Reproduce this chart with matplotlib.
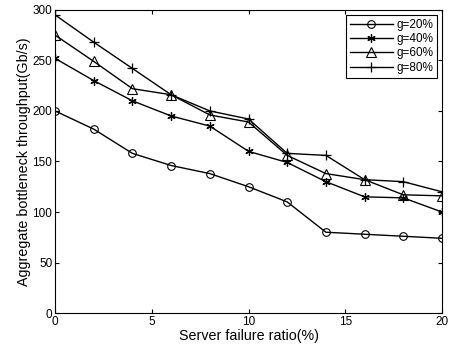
import matplotlib
matplotlib.use("Agg")
import matplotlib.pyplot as plt

x = [0, 2, 4, 6, 8, 10, 12, 14, 16, 18, 20]
g20 = [200, 182, 158, 146, 138, 125, 110, 80, 78, 76, 74]
g40 = [252, 230, 210, 195, 185, 160, 149, 130, 115, 114, 100]
g60 = [275, 249, 222, 216, 196, 189, 156, 138, 132, 117, 116]
g80 = [295, 268, 242, 216, 200, 192, 158, 156, 132, 130, 120]
labels = ["g=20%", "g=40%", "g=60%", "g=80%"]

plt.rcParams['font.family'] = ['Liberation Sans', 'DejaVu Sans']
fig = plt.figure(figsize=(4.51, 3.51), dpi=100)
ax = fig.add_axes([0.122, 0.108, 0.858, 0.864])
ax.plot(x, g20, '-o', color='black', lw=1, ms=5.5, mfc='none', mew=0.8, label=labels[0])
ax.plot(x, g40, '-', marker=(6, 2, 0), color='black', lw=1, ms=6, mfc='none', mew=0.9, label=labels[1])
ax.plot(x, g60, '-^', color='black', lw=1, ms=6.5, mfc='none', mew=0.8, label=labels[2])
ax.plot(x, g80, '-+', color='black', lw=1, ms=7, mfc='none', mew=0.9, label=labels[3])
ax.set_xlim(0, 20)
ax.set_ylim(0, 300)
ax.set_xticks([0, 5, 10, 15, 20])
ax.set_yticks([0, 50, 100, 150, 200, 250, 300])
ax.tick_params(direction='in', top=True, right=True, labelsize=8.5, length=3, pad=2)
ax.set_xlabel("Server failure ratio(%)", fontsize=10.3, labelpad=1)
ax.set_ylabel("Aggregate bottleneck throughput(Gb/s)", fontsize=10.3, labelpad=1)
leg = ax.legend(loc='upper right', fontsize=8.5, fancybox=False, edgecolor='black',
                framealpha=1, handlelength=3.6, labelspacing=0.2, borderpad=0.35,
                handletextpad=0.3, borderaxespad=0.4)
leg.get_frame().set_linewidth(0.8)
fig.savefig("out.png", dpi=100)
